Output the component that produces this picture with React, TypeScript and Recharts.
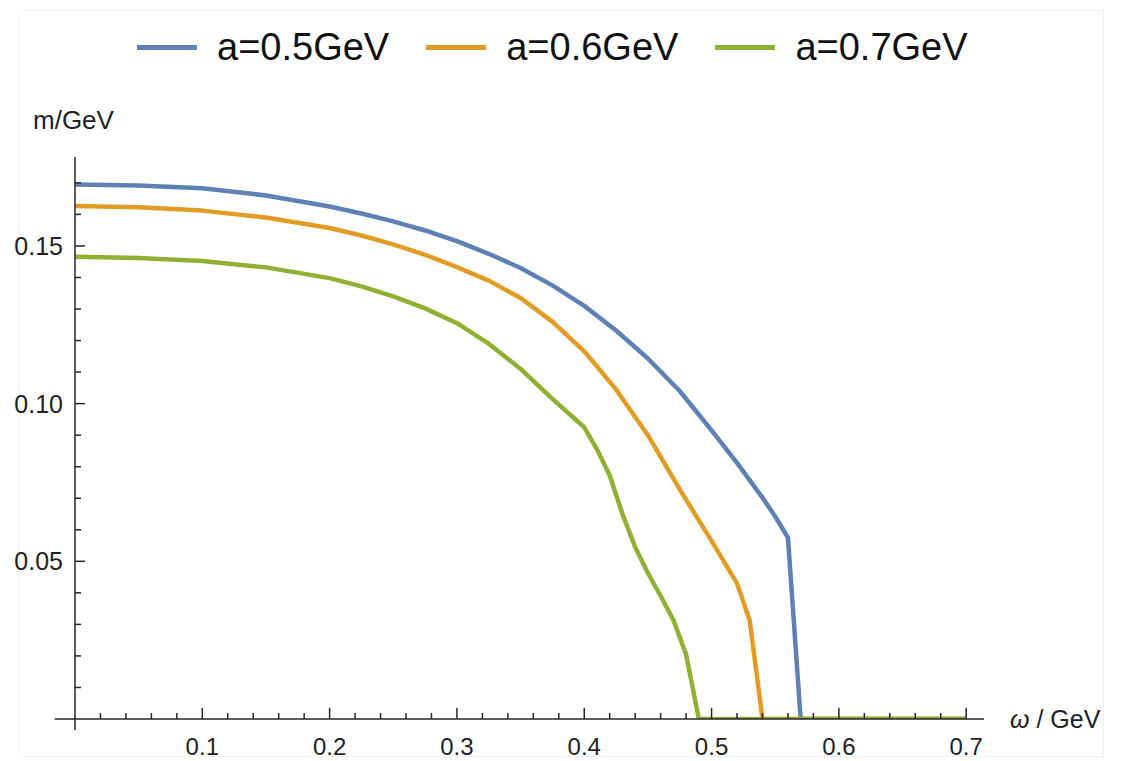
import { LineChart, Line, XAxis, YAxis, ReferenceLine } from 'recharts';

// omega (GeV) and m (GeV), one pair of arrays per curve
const omegaA05 = [0, 0.05, 0.1, 0.15, 0.2, 0.225, 0.25, 0.275, 0.3, 0.325, 0.35, 0.375, 0.4, 0.425, 0.45, 0.475, 0.5, 0.52, 0.54, 0.55, 0.56, 0.57, 0.7];
const massA05 = [0.1695, 0.1692, 0.1683, 0.166, 0.1625, 0.1603, 0.1578, 0.1549, 0.1515, 0.1475, 0.143, 0.1375, 0.131, 0.1232, 0.1143, 0.104, 0.0915, 0.0812, 0.0702, 0.0642, 0.0575, 0, 0];

const omegaA06 = [0, 0.05, 0.1, 0.15, 0.2, 0.225, 0.25, 0.275, 0.3, 0.325, 0.35, 0.375, 0.4, 0.425, 0.45, 0.475, 0.5, 0.52, 0.53, 0.54, 0.7];
const massA06 = [0.1627, 0.1623, 0.1612, 0.159, 0.1557, 0.1533, 0.1505, 0.1472, 0.1433, 0.139, 0.1335, 0.126, 0.1166, 0.1045, 0.09, 0.0728, 0.0565, 0.043, 0.0312, 0, 0];

const omegaA07 = [0, 0.05, 0.1, 0.15, 0.2, 0.225, 0.25, 0.275, 0.3, 0.325, 0.35, 0.375, 0.4, 0.41, 0.42, 0.43, 0.44, 0.45, 0.46, 0.47, 0.48, 0.49, 0.7];
const massA07 = [0.1466, 0.1462, 0.1452, 0.1432, 0.1398, 0.1372, 0.134, 0.1302, 0.1255, 0.119, 0.111, 0.1015, 0.0925, 0.0855, 0.0772, 0.065, 0.0545, 0.0463, 0.039, 0.0314, 0.0205, 0, 0];

const seriesNames = ['a=0.5GeV', 'a=0.6GeV', 'a=0.7GeV'];
const seriesColors = ['#5E81B5', '#E19C24', '#8FB032'];

const xMajorTicks = [0.1, 0.2, 0.3, 0.4, 0.5, 0.6, 0.7];
const xMajorLabels = ['0.1', '0.2', '0.3', '0.4', '0.5', '0.6', '0.7'];
const yMajorTicks = [0.05, 0.1, 0.15];
const yMajorLabels = ['0.05', '0.10', '0.15'];

const xTicks: number[] = [];
for (let i = 1; i <= 35; i++) xTicks.push(+(i * 0.02).toFixed(2));
const yTicks: number[] = [];
for (let i = 1; i <= 17; i++) yTicks.push(+(i * 0.01).toFixed(2));

const zip = (xs: number[], ys: number[]) => xs.map((w, i) => ({ w, m: ys[i] }));
const series = [
    zip(omegaA05, massA05),
    zip(omegaA06, massA06),
    zip(omegaA07, massA07),
];

const FONT = '"Liberation Sans", Arial, sans-serif';
const AXIS = '#262626';

const near = (a: number, b: number) => Math.abs(a - b) < 1e-6;

function XTick(props: any) {
    const { x, y, payload } = props;
    const idx = xMajorTicks.findIndex((t) => near(t, payload.value));
    const major = idx >= 0;
    return (
        <g>
            <line x1={x} x2={x} y1={y} y2={y - (major ? 11 : 6)} stroke={AXIS} strokeWidth={1.5} />
            {major && (
                <text x={x} y={y + 36} textAnchor="middle" fontSize={24} fontFamily={FONT} fill="#222">
                    {xMajorLabels[idx]}
                </text>
            )}
        </g>
    );
}

function YTick(props: any) {
    const { x, y, payload } = props;
    const idx = yMajorTicks.findIndex((t) => near(t, payload.value));
    const major = idx >= 0;
    return (
        <g>
            <line x1={x} x2={x + (major ? 10 : 6)} y1={y} y2={y} stroke={AXIS} strokeWidth={1.5} />
            {major && (
                <text x={x - 12} y={y + 9} textAnchor="end" fontSize={25} fontFamily={FONT} fill="#222">
                    {yMajorLabels[idx]}
                </text>
            )}
        </g>
    );
}

function Legend() {
    return (
        <div style={{ position: 'absolute', left: 137, top: 24, display: 'flex', alignItems: 'center', fontFamily: FONT, fontSize: 38, color: '#111' }}>
            {seriesNames.map((name, i) => (
                <div key={name} style={{ display: 'flex', alignItems: 'center', marginRight: 37 }}>
                    <div style={{ width: 60, height: 5, background: seriesColors[i], marginRight: 20 }} />
                    <span style={{ lineHeight: '46px' }}>{name}</span>
                </div>
            ))}
        </div>
    );
}

export default function App() {
    return (
        <div style={{ position: 'absolute', left: 0, top: 0, width: 1124, height: 761, background: '#fff' }}>
            <div style={{ position: 'absolute', left: 19, top: 10, width: 1083, height: 745, border: '1px solid #f1f1f1' }} />
            <Legend />
            <div style={{ position: 'absolute', left: 0, top: 0 }}>
                <LineChart width={1124} height={761} margin={{ top: 157, right: 140, bottom: 0, left: 0 }}>
                    <XAxis
                        type="number"
                        dataKey="w"
                        domain={[0, 0.714]}
                        ticks={xTicks}
                        interval={0}
                        allowDataOverflow
                        height={42}
                        axisLine={{ stroke: AXIS, strokeWidth: 1.5 }}
                        tickLine={false}
                        tickSize={0}
                        tickMargin={0}
                        tick={<XTick />}
                        label={{
                            content: (p: any) => (
                                <text x={p.viewBox.x + p.viewBox.width + 26} y={p.viewBox.y + 9} fontSize={25} fontFamily={FONT} fill="#222">
                                    <tspan fontStyle="italic">ω</tspan>
                                    <tspan> / GeV</tspan>
                                </text>
                            ),
                        }}
                    />
                    <YAxis
                        type="number"
                        dataKey="m"
                        domain={[0, 0.1782]}
                        ticks={yTicks}
                        interval={0}
                        allowDataOverflow
                        width={75}
                        axisLine={{ stroke: AXIS, strokeWidth: 1.5 }}
                        tickLine={false}
                        tickSize={0}
                        tickMargin={0}
                        tick={<YTick />}
                        label={{
                            content: (p: any) => (
                                <text x={p.viewBox.x + 33} y={p.viewBox.y - 28} fontSize={26} fontFamily={FONT} fill="#222">
                                    m/GeV
                                </text>
                            ),
                        }}
                    />
                    <ReferenceLine segment={[{ x: -0.016, y: 0 }, { x: 0, y: 0 }]} ifOverflow="visible" stroke={AXIS} strokeWidth={1.5} />
                    <ReferenceLine segment={[{ x: 0, y: -0.0035 }, { x: 0, y: 0 }]} ifOverflow="visible" stroke={AXIS} strokeWidth={1.5} />
                    {series.map((d, i) => (
                        <Line
                            key={seriesNames[i]}
                            data={d}
                            dataKey="m"
                            name={seriesNames[i]}
                            type="linear"
                            stroke={seriesColors[i]}
                            strokeWidth={4.5}
                            strokeLinejoin="round"
                            dot={false}
                            activeDot={false}
                            isAnimationActive={false}
                        />
                    ))}
                </LineChart>
            </div>
        </div>
    );
}
